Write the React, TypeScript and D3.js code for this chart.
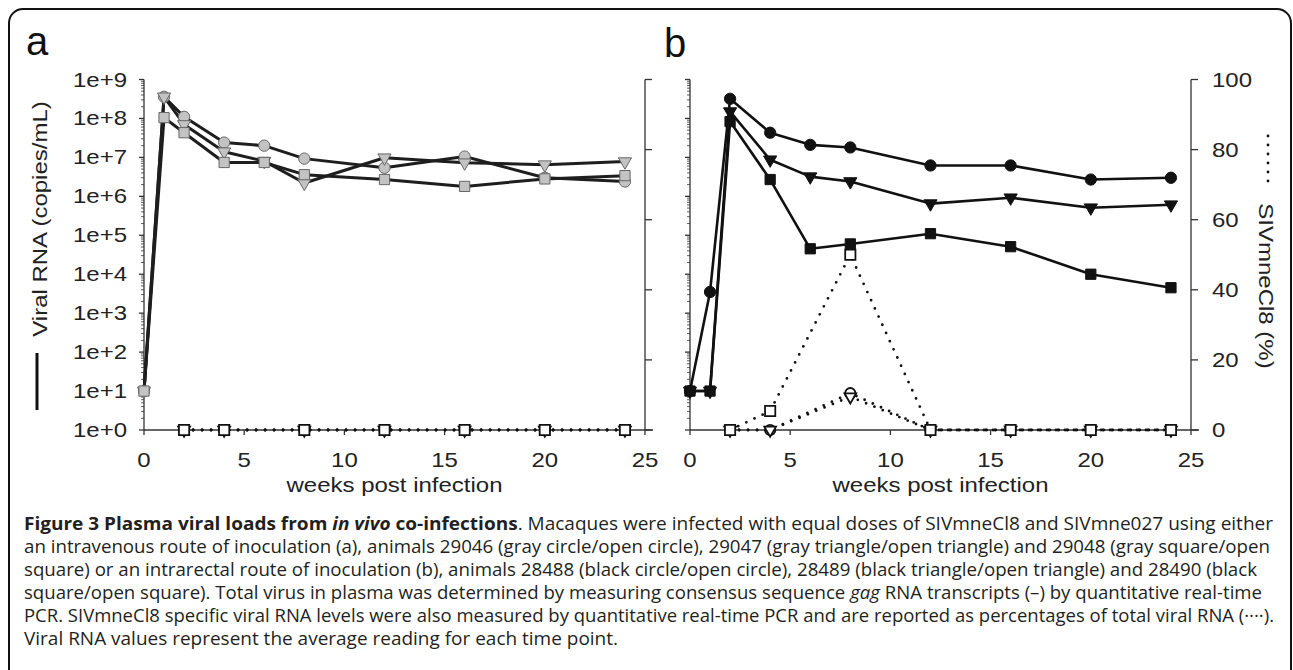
import * as d3 from 'd3';

// sampling weeks
const weeks = [0, 1, 2, 4, 6, 8, 12, 16, 20, 24];
const pctWeeks = [2, 4, 8, 12, 16, 20, 24];

// (a) intravenous, viral RNA copies/mL
const ivCircle = [10, 3.6e8, 1.1e8, 2.4e7, 2.0e7, 9.3e6, 5.4e6, 1.05e7, 3.0e6, 2.4e6];
const ivTriangle = [10, 3.6e8, 7.0e7, 1.4e7, 8.0e6, 2.2e6, 9.8e6, 7.3e6, 6.5e6, 7.8e6];
const ivSquare = [10, 1.05e8, 4.3e7, 7.4e6, 7.4e6, 3.6e6, 2.7e6, 1.8e6, 2.8e6, 3.4e6];
// (a) SIVmneCl8 %
const ivPctCircle = [0, 0, 0, 0, 0, 0, 0];
const ivPctTriangle = [0, 0, 0, 0, 0, 0, 0];
const ivPctSquare = [0, 0, 0, 0, 0, 0, 0];

// (b) intrarectal, viral RNA copies/mL
const irCircle = [10, 3.5e3, 3.2e8, 4.3e7, 2.1e7, 1.8e7, 6.2e6, 6.2e6, 2.7e6, 3.0e6];
const irTriangle = [10, 10, 1.5e8, 8.7e6, 3.2e6, 2.4e6, 6.5e5, 9.2e5, 5.1e5, 6.1e5];
const irSquare = [10, 10, 8.3e7, 2.7e6, 4.5e4, 6.0e4, 1.1e5, 5.1e4, 1.0e4, 4.5e3];
// (b) SIVmneCl8 %
const irPctCircle = [0, 0, 10.5, 0, 0, 0, 0];
const irPctTriangle = [0, 0, 9.5, 0, 0, 0, 0];
const irPctSquare = [0, 5.4, 50, 0, 0, 0, 0];

const xTicks = [0, 5, 10, 15, 20, 25];
const pctTicks = [0, 20, 40, 60, 80, 100];
const logLabels = ['1e+0', '1e+1', '1e+2', '1e+3', '1e+4', '1e+5', '1e+6', '1e+7', '1e+8', '1e+9'];

const W = 1293;
const H = 670;
const TOP = 79.5;
const BOT = 430;
const FONT = 'Liberation Sans, Arial, Helvetica, sans-serif';

const shapes = {
  circle: d3.symbol().type(d3.symbolCircle).size(100)(),
  square: d3.symbol().type(d3.symbolSquare).size(105)(),
  triangle: d3.symbol().type(d3.symbolTriangle).size(75)(),
};
const openShapes = {
  circle: d3.symbol().type(d3.symbolCircle).size(85)(),
  square: d3.symbol().type(d3.symbolSquare).size(105)(),
  triangle: d3.symbol().type(d3.symbolTriangle).size(60)(),
};

function Label({ x, y, rot = 0, anchor = 'middle', size = 20, sx = 1.2, children }) {
  return (
    <text
      transform={`translate(${x},${y}) rotate(${rot}) scale(${sx},1)`}
      textAnchor={anchor}
      fontSize={size}
      fontFamily={FONT}
      fill="#222"
    >
      {children}
    </text>
  );
}

function Marker({ x, y, kind, open, fill, stroke }) {
  const d = open ? openShapes[kind] : shapes[kind];
  const rot = kind === 'triangle' ? ' rotate(180)' : '';
  return (
    <path
      d={d}
      transform={`translate(${x},${y})${rot}`}
      fill={open ? '#fff' : fill}
      stroke={open ? '#111' : stroke}
      strokeWidth={open ? 1.8 : 1}
    />
  );
}

function Panel({ x0, x1, label, labelX, series, pct, leftLabels, rightLabels, fill, stroke, lineColor, lineWidth }) {
  const x = d3.scaleLinear().domain([0, 25]).range([x0, x1]);
  const y = d3.scaleLog().domain([1, 1e9]).range([BOT, TOP]);
  const yp = d3.scaleLinear().domain([0, 100]).range([BOT, TOP]);
  const line = d3.line<number>().x((_, i) => x(weeks[i])).y((v) => y(v));
  const pline = d3.line<number>().x((_, i) => x(pctWeeks[i])).y((v) => yp(v));
  const logTicks = y.ticks();
  const axisColor = '#333';

  return (
    <g>
      <text x={labelX} y={label === 'a' ? 55 : 57} fontSize={40} fontFamily={FONT} fill="#111">
        {label}
      </text>

      {/* left log axis */}
      <line x1={x0} x2={x0} y1={TOP} y2={BOT} stroke={axisColor} strokeWidth={1.3} />
      {logTicks.map((t, i) => {
        const major = Math.abs(Math.log10(t) - Math.round(Math.log10(t))) < 1e-9;
        return (
          <line key={i} x1={x0 - (major ? 5 : 3)} x2={x0} y1={y(t)} y2={y(t)} stroke={axisColor} strokeWidth={major ? 1.3 : 0.8} />
        );
      })}
      {leftLabels &&
        logLabels.map((l, i) => (
          <Label key={l} x={x0 - 17} y={y(Math.pow(10, i)) + 7} anchor="end">
            {l}
          </Label>
        ))}

      {/* right % axis */}
      <line x1={x1} x2={x1} y1={TOP} y2={BOT} stroke={axisColor} strokeWidth={1.3} />
      {pctTicks.map((t) => (
        <line key={t} x1={x1} x2={x1 + 7} y1={yp(t)} y2={yp(t)} stroke={axisColor} strokeWidth={1.3} />
      ))}
      {rightLabels &&
        pctTicks.map((t) => (
          <Label key={t} x={x1 + 21} y={yp(t) + 7} anchor="start">
            {t}
          </Label>
        ))}

      {/* x axis */}
      <line x1={x0} x2={x1 + 8} y1={BOT} y2={BOT} stroke={axisColor} strokeWidth={1.3} />
      {xTicks.map((t) => (
        <line key={t} x1={x(t)} x2={x(t)} y1={BOT} y2={BOT + 5} stroke={axisColor} strokeWidth={1.3} />
      ))}
      {xTicks.map((t) => (
        <Label key={t} x={x(t)} y={467}>
          {t}
        </Label>
      ))}
      <Label x={(x0 + x1) / 2} y={492}>
        weeks post infection
      </Label>

      {/* total viral RNA */}
      {series.map((s) => (
        <path key={s.kind} d={line(s.values)} fill="none" stroke={lineColor} strokeWidth={lineWidth} strokeLinejoin="round" />
      ))}
      {series.map((s) =>
        s.values.map((v, i) => (
          <Marker key={s.kind + i} x={x(weeks[i])} y={y(v)} kind={s.kind} fill={fill} stroke={stroke} />
        ))
      )}

      {/* SIVmneCl8 % */}
      {pct.map((s) => (
        <path key={s.kind} d={pline(s.values)} fill="none" stroke="#111" strokeWidth={2.8} strokeDasharray="0 9" strokeLinecap="round" />
      ))}
      {pct.map((s) =>
        s.values.map((v, i) => <Marker key={s.kind + i} x={x(pctWeeks[i])} y={yp(v)} kind={s.kind} open />)
      )}
    </g>
  );
}

// caption line right edges (px)
const captionEnds = [1273, 1270, 1257, 1262, 1274, 618];
const CAP_X = 24;

export default function App() {
  const capProps = (i: number) => ({
    x: CAP_X,
    y: 530 + i * 23,
    textLength: captionEnds[i] - CAP_X,
    lengthAdjust: 'spacingAndGlyphs',
  });
  return (
    <svg width={W} height={H} style={{ position: 'absolute', left: 0, top: 0, background: '#fff' }}>
      <rect x={9} y={9} width={1282} height={720} rx={14} fill="none" stroke="#111" strokeWidth={2} />

      <Panel
        x0={144}
        x1={645}
        label="a"
        labelX={26}
        leftLabels
        rightLabels={false}
        fill="#c3c3c3"
        stroke="#666"
        lineColor="#1e1e1e"
        lineWidth={3}
        series={[
          { kind: 'circle', values: ivCircle },
          { kind: 'triangle', values: ivTriangle },
          { kind: 'square', values: ivSquare },
        ]}
        pct={[
          { kind: 'circle', values: ivPctCircle },
          { kind: 'triangle', values: ivPctTriangle },
          { kind: 'square', values: ivPctSquare },
        ]}
      />
      <Panel
        x0={690}
        x1={1191}
        label="b"
        labelX={664}
        leftLabels={false}
        rightLabels
        fill="#111"
        stroke="#111"
        lineColor="#111"
        lineWidth={2.6}
        series={[
          { kind: 'circle', values: irCircle },
          { kind: 'triangle', values: irTriangle },
          { kind: 'square', values: irSquare },
        ]}
        pct={[
          { kind: 'circle', values: irPctCircle },
          { kind: 'triangle', values: irPctTriangle },
          { kind: 'square', values: irPctSquare },
        ]}
      />

      {/* left axis title with solid-line key */}
      <line x1={37} x2={37} y1={353} y2={410} stroke="#111" strokeWidth={3} />
      <Label x={47} y={219} rot={-90}>
        Viral RNA (copies/mL)
      </Label>

      {/* right axis title with dotted-line key */}
      <line x1={1268} x2={1268} y1={136} y2={183} stroke="#111" strokeWidth={2.8} strokeDasharray="0 9" strokeLinecap="round" />
      <Label x={1259} y={286} rot={90}>
        SIVmneCl8 (%)
      </Label>

      {/* caption */}
      <g fontFamily="Open Sans, Noto Sans, sans-serif" fontSize={18.5} fill="#231f20">
        <text {...capProps(0)}>
          <tspan fontWeight="bold">Figure 3 Plasma viral loads from </tspan>
          <tspan fontWeight="bold" fontStyle="italic">in vivo</tspan>
          <tspan fontWeight="bold"> co-infections</tspan>
          <tspan>. Macaques were infected with equal doses of SIVmneCl8 and SIVmne027 using either</tspan>
        </text>
        <text {...capProps(1)}>
          an intravenous route of inoculation (a), animals 29046 (gray circle/open circle), 29047 (gray triangle/open triangle) and 29048 (gray square/open
        </text>
        <text {...capProps(2)}>
          square) or an intrarectal route of inoculation (b), animals 28488 (black circle/open circle), 28489 (black triangle/open triangle) and 28490 (black
        </text>
        <text {...capProps(3)}>
          <tspan>square/open square). Total virus in plasma was determined by measuring consensus sequence </tspan>
          <tspan fontStyle="italic">gag</tspan>
          <tspan> RNA transcripts (–) by quantitative real-time</tspan>
        </text>
        <text {...capProps(4)}>
          PCR. SIVmneCl8 specific viral RNA levels were also measured by quantitative real-time PCR and are reported as percentages of total viral RNA (····).
        </text>
        <text {...capProps(5)}>
          Viral RNA values represent the average reading for each time point.
        </text>
      </g>
    </svg>
  );
}
